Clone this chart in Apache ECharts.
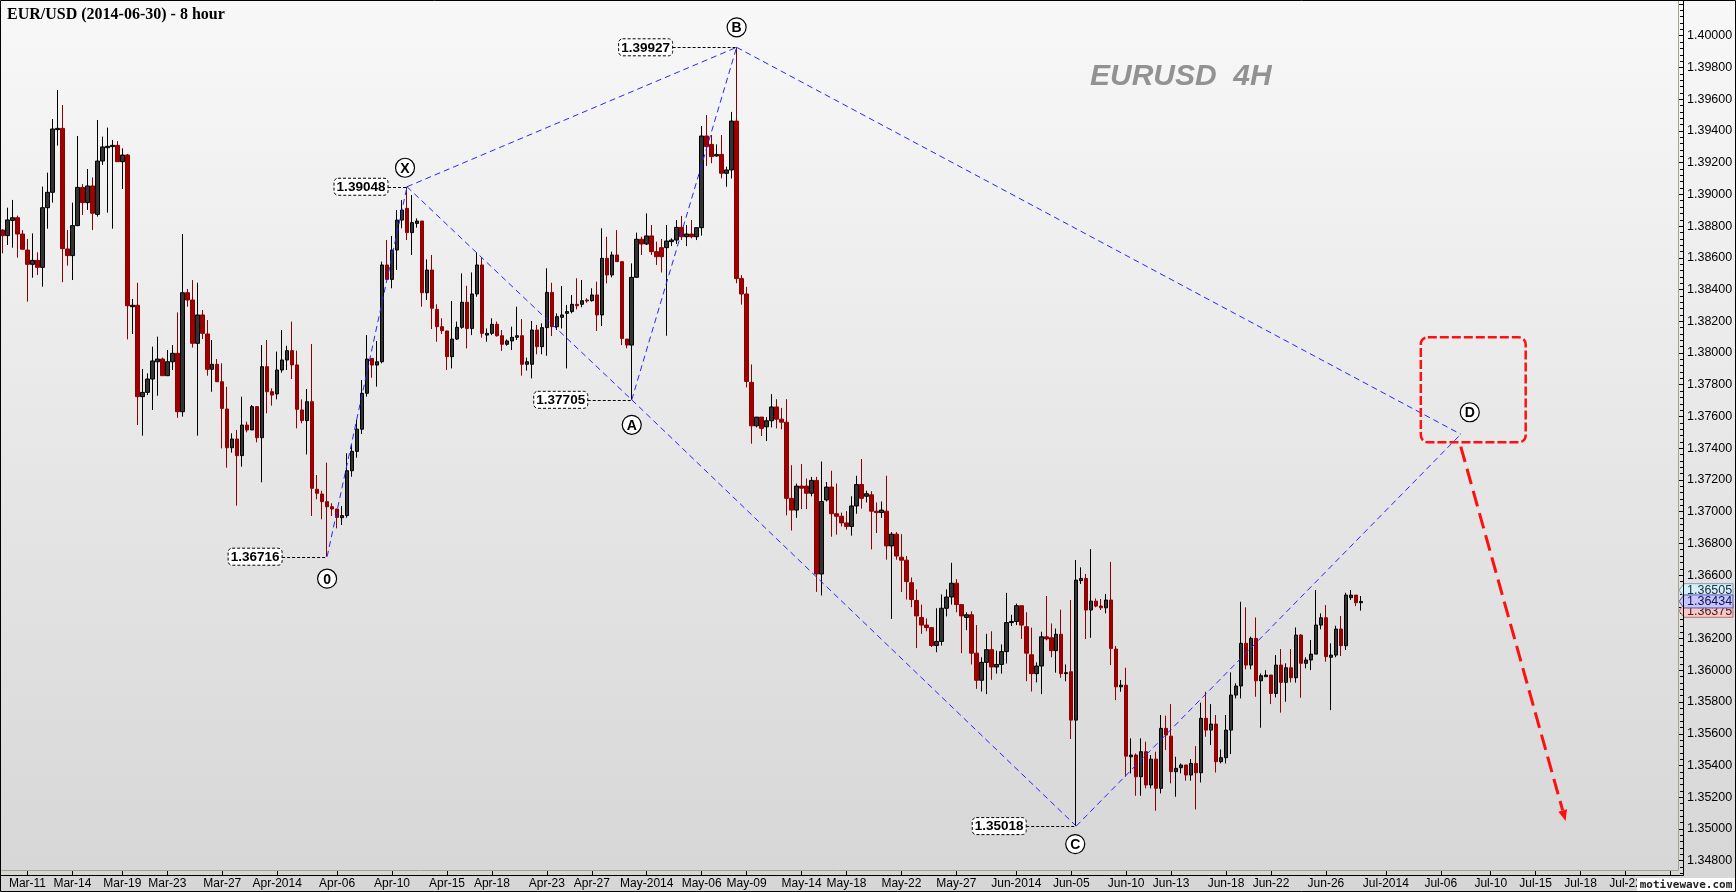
<!DOCTYPE html>
<html><head><meta charset="utf-8">
<script src="https://cdn.jsdelivr.net/npm/echarts@6/dist/echarts.min.js"></script>
<style>html,body{margin:0;padding:0;width:1736px;height:892px;overflow:hidden;background:#eee}#c{width:1736px;height:892px;}</style>
</head><body><div id="c"></div><script>
// ---------- DATA ----------
const opens = [1.38775,1.38740,1.38836,1.38853,1.38750,1.38649,1.38559,1.38584,1.38540,1.38916,
1.39013,1.39408,1.39416,1.38656,1.38614,1.38803,1.39044,1.38948,1.39053,1.38874,
1.39210,1.39294,1.39301,1.39309,1.39206,1.39248,1.38292,1.38301,1.37725,1.37752,
1.37836,1.37945,1.37962,1.37857,1.37945,1.37998,1.37630,1.38380,1.38334,1.38061,
1.38240,1.38120,1.37897,1.37929,1.37819,1.37647,1.37403,1.37458,1.37353,1.37546,
1.37515,1.37662,1.37466,1.37914,1.37756,1.37742,1.37893,1.37956,1.38015,1.37925,
1.37641,1.37574,1.37693,1.37141,1.37111,1.37063,1.37031,1.37017,1.36962,1.36975,
1.37258,1.37380,1.37520,1.37746,1.37966,1.37924,1.37945,1.38555,1.38464,1.38649,
1.38838,1.38912,1.38759,1.38817,1.38832,1.38380,1.38523,1.38275,1.38166,1.38139,
1.37977,1.38088,1.38162,1.38320,1.38155,1.38372,1.38555,1.38113,1.38124,1.38181,
1.38109,1.38055,1.38076,1.38099,1.38109,1.37929,1.37929,1.38145,1.38040,1.38160,
1.38382,1.38166,1.38225,1.38250,1.38261,1.38307,1.38307,1.38334,1.38330,1.38366,
1.38240,1.38597,1.38492,1.38618,1.38576,1.38088,1.38050,1.38477,1.38717,1.38687,
1.38738,1.38639,1.38664,1.38664,1.38702,1.38712,1.38792,1.38733,1.38750,1.38733,
1.38790,1.39368,1.39315,1.39242,1.39252,1.39133,1.39154,1.39462,1.38469,1.38372,
1.37815,1.37541,1.37596,1.37535,1.37573,1.37660,1.37583,1.37564,1.37084,1.37010,
1.37161,1.37161,1.37116,1.37197,1.36607,1.37074,1.37155,1.36987,1.36971,1.36929,
1.36907,1.37036,1.37171,1.37097,1.37106,1.37003,1.36994,1.37003,1.36784,1.36858,
1.36713,1.36694,1.36552,1.36440,1.36333,1.36285,1.36269,1.36156,1.36182,1.36391,
1.36462,1.36549,1.36414,1.36333,1.36350,1.36108,1.35937,1.36050,1.36130,1.36021,
1.36037,1.36118,1.36301,1.36308,1.36407,1.36275,1.36098,1.35979,1.36027,1.36211,
1.36205,1.36124,1.36227,1.35979,1.35991,1.35686,1.36565,1.36579,1.36380,1.36436,
1.36405,1.36394,1.36443,1.36134,1.35896,1.35906,1.35455,1.35466,1.35329,1.35487,
1.35277,1.35440,1.35256,1.35634,1.35585,1.35361,1.35386,1.35403,1.35340,1.35413,
1.35354,1.35697,1.35623,1.35661,1.35424,1.35449,1.35623,1.35844,1.35901,1.36170,
1.36033,1.36201,1.35934,1.35960,1.35970,1.35854,1.36033,1.35924,1.36016,1.35953,
1.36222,1.36044,1.36065,1.36102,1.36285,1.36331,1.36082,1.36096,1.36260,1.36155,
1.36458,1.36474,1.36426];
const highs = [1.38780,1.38916,1.38965,1.38866,1.38775,1.38719,1.38754,1.38635,1.39049,1.39137,
1.39475,1.39658,1.39563,1.38775,1.38948,1.39368,1.39065,1.39160,1.39107,1.39469,
1.39364,1.39421,1.39343,1.39336,1.39290,1.39255,1.38341,1.38443,1.37899,1.37872,
1.38040,1.38103,1.37971,1.38019,1.38050,1.38256,1.38750,1.38404,1.38460,1.38443,
1.38271,1.38208,1.38082,1.37962,1.37935,1.37787,1.37494,1.37515,1.37725,1.37567,
1.37672,1.37666,1.38050,1.38082,1.37777,1.38009,1.38145,1.38046,1.38198,1.38015,
1.37708,1.37773,1.38057,1.37231,1.37132,1.37309,1.37053,1.37017,1.37036,1.37368,
1.37420,1.37580,1.37830,1.38113,1.37966,1.38076,1.38576,1.38712,1.38738,1.38901,
1.38964,1.39048,1.38996,1.38849,1.38832,1.38590,1.38618,1.38307,1.38219,1.38139,
1.38328,1.38198,1.38502,1.38424,1.38508,1.38634,1.38603,1.38155,1.38219,1.38198,
1.38145,1.38086,1.38166,1.38292,1.38214,1.37971,1.38202,1.38177,1.38187,1.38534,
1.38443,1.38250,1.38422,1.38303,1.38366,1.38471,1.38460,1.38345,1.38408,1.38450,
1.38786,1.38733,1.38639,1.38775,1.38576,1.38088,1.38565,1.38759,1.38733,1.38880,
1.38807,1.38702,1.38719,1.38807,1.38723,1.38838,1.38864,1.38807,1.38838,1.38792,
1.39431,1.39500,1.39374,1.39315,1.39374,1.39175,1.39520,1.39927,1.38491,1.38417,
1.37928,1.37596,1.37596,1.37596,1.37741,1.37709,1.37654,1.37709,1.37293,1.37177,
1.37300,1.37209,1.37219,1.37219,1.37316,1.37187,1.37258,1.37177,1.36994,1.37003,
1.37097,1.37226,1.37332,1.37132,1.37129,1.37058,1.37064,1.37226,1.36871,1.36871,
1.36858,1.36720,1.36585,1.36510,1.36414,1.36327,1.36269,1.36391,1.36478,1.36510,
1.36678,1.36575,1.36414,1.36366,1.36372,1.36285,1.36082,1.36230,1.36246,1.36124,
1.36163,1.36488,1.36350,1.36420,1.36407,1.36366,1.36269,1.36050,1.36243,1.36468,
1.36295,1.36263,1.36382,1.36037,1.36443,1.36695,1.36649,1.36607,1.36764,1.36453,
1.36449,1.36481,1.36684,1.36153,1.35939,1.36016,1.35571,1.35476,1.35571,1.35550,
1.35466,1.35487,1.35718,1.35714,1.35787,1.35455,1.35413,1.35403,1.35440,1.35522,
1.35796,1.35865,1.35787,1.35718,1.35501,1.35718,1.35987,1.35918,1.36432,1.36397,
1.36212,1.36333,1.35980,1.36001,1.35970,1.36096,1.36134,1.36044,1.36134,1.36270,
1.36228,1.36082,1.36191,1.36506,1.36359,1.36411,1.36170,1.36281,1.36342,1.36489,
1.36506,1.36474,1.36468];
const lows = [1.38628,1.38681,1.38664,1.38601,1.38654,1.38324,1.38475,1.38492,1.38418,1.38784,
1.38948,1.39307,1.38446,1.38551,1.38460,1.38800,1.38870,1.38902,1.38775,1.38860,
1.39185,1.38885,1.38784,1.39206,1.39034,1.38086,1.38120,1.37546,1.37479,1.37735,
1.37641,1.37731,1.37857,1.37857,1.37893,1.37592,1.37599,1.38292,1.38034,1.37479,
1.38088,1.37857,1.37756,1.37819,1.37399,1.37277,1.37372,1.37038,1.37284,1.37500,
1.37515,1.37437,1.37185,1.37620,1.37668,1.37708,1.37876,1.37893,1.37836,1.37525,
1.37557,1.37361,1.36973,1.37078,1.36952,1.36716,1.36973,1.36895,1.36916,1.36962,
1.37220,1.37340,1.37490,1.37725,1.37844,1.37788,1.37935,1.38460,1.38408,1.38523,
1.38786,1.38712,1.38618,1.38790,1.38292,1.38334,1.38151,1.38071,1.38120,1.37893,
1.37903,1.38082,1.38153,1.38029,1.38113,1.38355,1.38097,1.38071,1.38113,1.38103,
1.38013,1.38046,1.38019,1.38082,1.37857,1.37889,1.37840,1.37992,1.37992,1.37983,
1.38107,1.38145,1.38155,1.37903,1.38250,1.38275,1.38288,1.38317,1.38324,1.38139,
1.38170,1.38439,1.38477,1.38576,1.38050,1.38029,1.37705,1.38477,1.38618,1.38681,
1.38618,1.38555,1.38508,1.38109,1.38674,1.38687,1.38712,1.38674,1.38723,1.38712,
1.38740,1.39179,1.39196,1.39238,1.39101,1.39048,1.39100,1.38440,1.38305,1.37783,
1.37428,1.37531,1.37477,1.37445,1.37531,1.37525,1.37519,1.36977,1.36881,1.36961,
1.37016,1.37016,1.37097,1.36494,1.36472,1.37064,1.36842,1.36855,1.36907,1.36887,
1.36849,1.36987,1.37019,1.37058,1.36762,1.36865,1.36961,1.36697,1.36324,1.36697,
1.36494,1.36446,1.36398,1.36140,1.36230,1.36246,1.36147,1.36114,1.36156,1.36340,
1.36414,1.36366,1.36108,1.36253,1.36037,1.35883,1.35866,1.35850,1.35940,1.35979,
1.35979,1.36043,1.36279,1.36285,1.36198,1.35931,1.35866,1.35924,1.35850,1.36189,
1.36082,1.35985,1.35953,1.35931,1.35567,1.35018,1.36544,1.36197,1.36205,1.36397,
1.36380,1.36359,1.36033,1.35812,1.35865,1.35329,1.35350,1.35209,1.35209,1.35256,
1.35256,1.35115,1.35224,1.35497,1.35287,1.35203,1.35350,1.35304,1.35304,1.35123,
1.35293,1.35581,1.35529,1.35356,1.35413,1.35413,1.35472,1.35823,1.35823,1.36006,
1.36006,1.35833,1.35638,1.35960,1.35787,1.35829,1.35733,1.35802,1.35924,1.35922,
1.35827,1.36012,1.36001,1.36102,1.36258,1.36054,1.35749,1.36082,1.36090,1.36128,
1.36443,1.36405,1.36376];
const closes = [1.38740,1.38839,1.38853,1.38750,1.38654,1.38559,1.38584,1.38540,1.38916,1.39013,
1.39412,1.39416,1.38658,1.38614,1.38803,1.39044,1.38948,1.39053,1.38881,1.39210,
1.39299,1.39303,1.39309,1.39206,1.39248,1.38298,1.38301,1.37725,1.37752,1.37836,
1.37950,1.37962,1.37857,1.37945,1.37998,1.37630,1.38380,1.38334,1.38061,1.38240,
1.38124,1.37897,1.37929,1.37819,1.37651,1.37403,1.37458,1.37353,1.37546,1.37515,
1.37662,1.37466,1.37914,1.37756,1.37735,1.37893,1.37956,1.38015,1.37925,1.37645,
1.37574,1.37693,1.37147,1.37116,1.37063,1.37031,1.37017,1.36964,1.36975,1.37258,
1.37380,1.37520,1.37746,1.37962,1.37924,1.37945,1.38555,1.38464,1.38649,1.38838,
1.38901,1.38759,1.38822,1.38832,1.38380,1.38523,1.38282,1.38166,1.38141,1.37977,
1.38088,1.38162,1.38320,1.38155,1.38372,1.38555,1.38124,1.38124,1.38181,1.38109,
1.38055,1.38076,1.38099,1.38109,1.37929,1.37945,1.38145,1.38040,1.38160,1.38382,
1.38166,1.38229,1.38240,1.38261,1.38307,1.38298,1.38330,1.38328,1.38366,1.38240,
1.38597,1.38492,1.38618,1.38576,1.38092,1.38050,1.38477,1.38717,1.38687,1.38738,
1.38639,1.38607,1.38607,1.38706,1.38712,1.38792,1.38733,1.38750,1.38733,1.38790,
1.39368,1.39301,1.39238,1.39252,1.39133,1.39154,1.39462,1.38469,1.38372,1.37821,
1.37541,1.37596,1.37525,1.37573,1.37660,1.37583,1.37564,1.37084,1.37010,1.37161,
1.37148,1.37116,1.37197,1.36607,1.37064,1.37155,1.36987,1.36971,1.36929,1.36907,
1.37036,1.37171,1.37084,1.37113,1.37003,1.36994,1.37010,1.36784,1.36858,1.36720,
1.36694,1.36559,1.36446,1.36343,1.36285,1.36269,1.36156,1.36182,1.36391,1.36462,
1.36549,1.36414,1.36343,1.36350,1.36108,1.35937,1.36050,1.36130,1.36021,1.36037,
1.36118,1.36301,1.36308,1.36407,1.36285,1.36108,1.35979,1.36027,1.36211,1.36198,
1.36124,1.36227,1.35979,1.35985,1.35686,1.36569,1.36579,1.36380,1.36436,1.36405,
1.36394,1.36443,1.36138,1.35896,1.35906,1.35459,1.35466,1.35329,1.35487,1.35277,
1.35440,1.35256,1.35634,1.35592,1.35361,1.35382,1.35403,1.35340,1.35413,1.35354,
1.35697,1.35623,1.35661,1.35424,1.35449,1.35623,1.35844,1.35901,1.36170,1.36033,
1.36201,1.35934,1.35966,1.35970,1.35854,1.36033,1.35924,1.36016,1.35953,1.36222,
1.36044,1.36065,1.36102,1.36285,1.36331,1.36086,1.36096,1.36260,1.36155,1.36474,
1.36474,1.36426,1.36434];

const barCount = 337;                       // data bars + empty future slots
const categories = Array.from({length: barCount}, (_, i) => String(i));
const tickIndex = [5,14,24,33,44,55,67,78,89,98,109,118,129,140,149,160,169,180,191,203,214,225,234,245,254,265,277,288,298,307,316,325,334];
const tickLabels = ['Mar-11','Mar-14','Mar-19','Mar-23','Mar-27','Apr-2014','Apr-06','Apr-10','Apr-15','Apr-18','Apr-23','Apr-27','May-2014','May-06','May-09','May-14','May-18','May-22','May-27','Jun-2014','Jun-05','Jun-10','Jun-13','Jun-18','Jun-22','Jun-26','Jul-2014','Jul-06','Jul-10','Jul-15','Jul-18','Jul-22','Jul-25'];
const priceMin = 1.346, priceMax = 1.402, priceStep = 0.002;

// harmonic pattern vertices
const patternNames = ['0','X','A','B','C','D'];
const patternIdx   = [65, 81, 126, 147, 215, 292.4];
const patternPrice = [1.36716, 1.39048, 1.37705, 1.39927, 1.35018, 1.37488];
const patternLinks = [[0,1],[1,2],[2,3],[1,3],[2,4],[3,5],[4,5]];
// PRZ box (bar index range, price range) and projected move
const przBox = [284.4, 1.38099, 304.9, 1.37437];
const projArrow = [292.2, 1.37410, 312.7, 1.35050];
// right-axis price markers
const markerPrices = [1.36505, 1.36375, 1.36434];

// ---------- STYLE / LAYOUT (not data) ----------
const letterOffset = [[0,22],[-2,-19],[0,25],[0,-20],[-1,18],[9,-22]];
const boxGap = [45,19,44,64,50,null];
const markerStyle = [
  {fill:'#d4f1fa', stroke:'#7f9fb0', text:'#203040'},
  {fill:'#fbc8c8', stroke:'#b07070', text:'#402020'},
  {fill:'#c6c6fb', stroke:'#5a5ab0', text:'#10105a'}
];
const FONT = '"Liberation Sans", Arial, sans-serif';

const tickSet = new Set(tickIndex);
const tickMap = {}; tickIndex.forEach((v,i)=>{ tickMap[v] = tickLabels[i]; });
const candleData = opens.map((o,i)=>[o, closes[i], lows[i], highs[i]]);

const chart = echarts.init(document.getElementById('c'), null, {renderer:'canvas'});
const option = {
  animation: false,
  backgroundColor: {type:'linear', x:0, y:0, x2:0, y2:1, colorStops:[{offset:0,color:'#f8f8f8'},{offset:1,color:'#d6d6d6'}]},
  textStyle: {fontFamily: FONT},
  grid: [
    {left:0, right:53, top:4, height:888.4, containLabel:false, outerBoundsMode:'none'},
    {left:0, right:53, top:870, height:5, containLabel:false, outerBoundsMode:'none'}
  ],
  xAxis: [
    {type:'category', gridIndex:0, data:categories, boundaryGap:true, show:false},
    {type:'category', gridIndex:1, data:categories, boundaryGap:true, position:'bottom',
     axisLine:{show:true, lineStyle:{color:'#000', width:1}},
     axisTick:{show:true, inside:true, length:5, alignWithLabel:true, interval:(i)=>tickSet.has(i), lineStyle:{color:'#000'}},
     axisLabel:{show:true, interval:(i)=>tickSet.has(i), formatter:(v,i)=>tickMap[i]||'', color:'#000', fontSize:12, fontFamily:FONT, margin:3},
     splitLine:{show:false}}
  ],
  yAxis: [
    {type:'value', gridIndex:0, position:'right', min:priceMin, max:priceMax, interval:priceStep, scale:true,
     axisLine:{show:false},
     axisTick:{show:true, inside:true, length:5, lineStyle:{color:'#000'}},
     minorTick:{show:true, splitNumber:5, length:3, lineStyle:{color:'#000'}},
     axisLabel:{show:true, color:'#000', fontSize:12.5, fontFamily:FONT, margin:4,
       formatter:(v)=> (v < 1.3479 || v > 1.4001) ? '' : v.toFixed(5)},
     splitLine:{show:false}},
    {type:'value', gridIndex:1, show:false}
  ],
  series: [
    {type:'candlestick', xAxisIndex:0, yAxisIndex:0, data:candleData, barWidth:4,
     itemStyle:{color:'#333333', color0:'#a00000', borderColor:'#000000', borderColor0:'#8b0000', borderWidth:1},
     silent:true, z:3},
    {type:'custom', xAxisIndex:0, yAxisIndex:0, silent:true, z:4,
     data: patternLinks.map(l=>[patternIdx[l[0]], patternPrice[l[0]], patternIdx[l[1]], patternPrice[l[1]]]),
     encode:{x:[0,2], y:[1,3]},
     renderItem:(params, api)=>{
       const a = api.coord([api.value(0), api.value(1)]);
       const b = api.coord([api.value(2), api.value(3)]);
       return {type:'line', shape:{x1:a[0], y1:a[1], x2:b[0], y2:b[1]},
               style:{stroke:'#2626ff', lineWidth:1, lineDash:[6,4], fill:null}};
     }},
    {type:'custom', xAxisIndex:0, yAxisIndex:0, silent:true, z:5,
     data: [przBox], encode:{x:[0,2], y:[1,3]},
     renderItem:(params, api)=>{
       const a = api.coord([api.value(0), api.value(1)]);
       const b = api.coord([api.value(2), api.value(3)]);
       return {type:'rect', shape:{x:a[0], y:a[1], width:b[0]-a[0], height:b[1]-a[1], r:7},
               style:{stroke:'#ff1010', lineWidth:2.5, lineDash:[9,3], fill:null}};
     }},
    {type:'custom', xAxisIndex:0, yAxisIndex:0, silent:true, z:5,
     data: [projArrow], encode:{x:[0,2], y:[1,3]},
     renderItem:(params, api)=>{
       const a = api.coord([api.value(0), api.value(1)]);
       const b = api.coord([api.value(2), api.value(3)]);
       const dx=b[0]-a[0], dy=b[1]-a[1], L=Math.hypot(dx,dy), ux=dx/L, uy=dy/L;
       const hl=11, hw=4.5, bx=b[0]-ux*hl, by=b[1]-uy*hl;
       return {type:'group', children:[
         {type:'line', shape:{x1:a[0], y1:a[1], x2:bx, y2:by}, style:{stroke:'#ff1010', lineWidth:3, lineDash:[16,7], fill:null}},
         {type:'polygon', shape:{points:[[b[0],b[1]],[bx-uy*hw, by+ux*hw],[bx+uy*hw, by-ux*hw]]}, style:{fill:'#ff1010'}}
       ]};
     }},
    {type:'custom', xAxisIndex:0, yAxisIndex:0, silent:true, z:6,
     data: patternIdx.map((v,i)=>[v, patternPrice[i]]),
     renderItem:(params, api)=>{
       const i = params.dataIndex;
       const p = api.coord([api.value(0), api.value(1)]);
       const lo = letterOffset[i];
       const ch = [];
       if (boxGap[i] != null) {
         const g = boxGap[i], w = 54, h = 17;
         ch.push({type:'line', shape:{x1:p[0]-g, y1:Math.round(p[1])+0.5, x2:p[0], y2:Math.round(p[1])+0.5},
                  style:{stroke:'#000', lineWidth:1, lineDash:[3,2]}});
         ch.push({type:'rect', shape:{x:p[0]-g-w, y:p[1]-h/2, width:w, height:h, r:4},
                  style:{fill:'#ffffff', stroke:'#000', lineWidth:1, lineDash:[3,2]}});
         ch.push({type:'text', style:{text:patternPrice[i].toFixed(5), x:p[0]-g-w/2, y:p[1]+0.5, align:'center', verticalAlign:'middle',
                  font:'bold 13.5px '+FONT, fill:'#000'}});
       }
       ch.push({type:'circle', shape:{cx:p[0]+lo[0], cy:p[1]+lo[1], r:9.5}, style:{fill:'#fff', stroke:'#000', lineWidth:1.2}});
       ch.push({type:'text', style:{text:patternNames[i], x:p[0]+lo[0], y:p[1]+lo[1]+1, align:'center', verticalAlign:'middle',
                font:'bold 14px '+FONT, fill:'#000'}});
       return {type:'group', children:ch};
     }},
    {type:'custom', xAxisIndex:0, yAxisIndex:0, silent:true, z:20, clip:false,
     data: markerPrices.map(p=>[0, p]),
     renderItem:(params, api)=>{
       const i = params.dataIndex;
       const y = api.coord([0, api.value(1)])[1];
       const cs = params.coordSys;
       const x0 = cs.x + cs.width;
       const s = markerStyle[i];
       return {type:'group', children:[
         {type:'polygon', shape:{points:[[x0-4,y],[x0+1,y-6.5],[x0+50,y-6.5],[x0+50,y+6.5],[x0+1,y+6.5]]},
          style:{fill:s.fill, stroke:s.stroke, lineWidth:1}},
         {type:'text', style:{text:api.value(1).toFixed(5), x:x0+4, y:y+0.5, align:'left', verticalAlign:'middle',
          font:'12.5px '+FONT, fill:s.text}}
       ]};
     }}
  ],
  graphic: [
    {type:'line', z:50, silent:true, shape:{x1:1678.5, y1:0, x2:1678.5, y2:870.5}, style:{stroke:'#a4a493', lineWidth:1}},
    {type:'line', z:50, silent:true, shape:{x1:0, y1:870.5, x2:1678.5, y2:870.5}, style:{stroke:'#a4a493', lineWidth:1}},
    {type:'line', z:50, silent:true, shape:{x1:1683.5, y1:0, x2:1683.5, y2:875.5}, style:{stroke:'#000', lineWidth:1}},
    {type:'line', z:50, silent:true, shape:{x1:0, y1:875.5, x2:1683.5, y2:875.5}, style:{stroke:'#000', lineWidth:1}},
    {type:'rect', z:60, silent:true, shape:{x:0.5, y:0.5, width:1735, height:891}, style:{fill:null, stroke:'#000', lineWidth:1}},
    {type:'text', z:60, silent:true, style:{text:'EUR/USD (2014-06-30) - 8 hour', x:7, y:15, verticalAlign:'middle',
      font:'bold 16px "Liberation Serif", "Times New Roman", serif', fill:'#000'}},
    {type:'text', z:60, silent:true, style:{text:'EURUSD  4H', x:1090, y:77, verticalAlign:'middle',
      font:'italic bold 30px '+FONT, fill:'#929292'}},
    {type:'rect', z:70, silent:true, shape:{x:1637, y:878, width:98, height:13}, style:{fill:'#ffffff'}},
    {type:'text', z:71, silent:true, style:{text:'motivewave.com', x:1686, y:885, align:'center', verticalAlign:'middle',
      font:'bold 11px "DejaVu Sans Mono", monospace', fill:'#222'}}
  ]
};
chart.setOption(option);
</script></body></html>
